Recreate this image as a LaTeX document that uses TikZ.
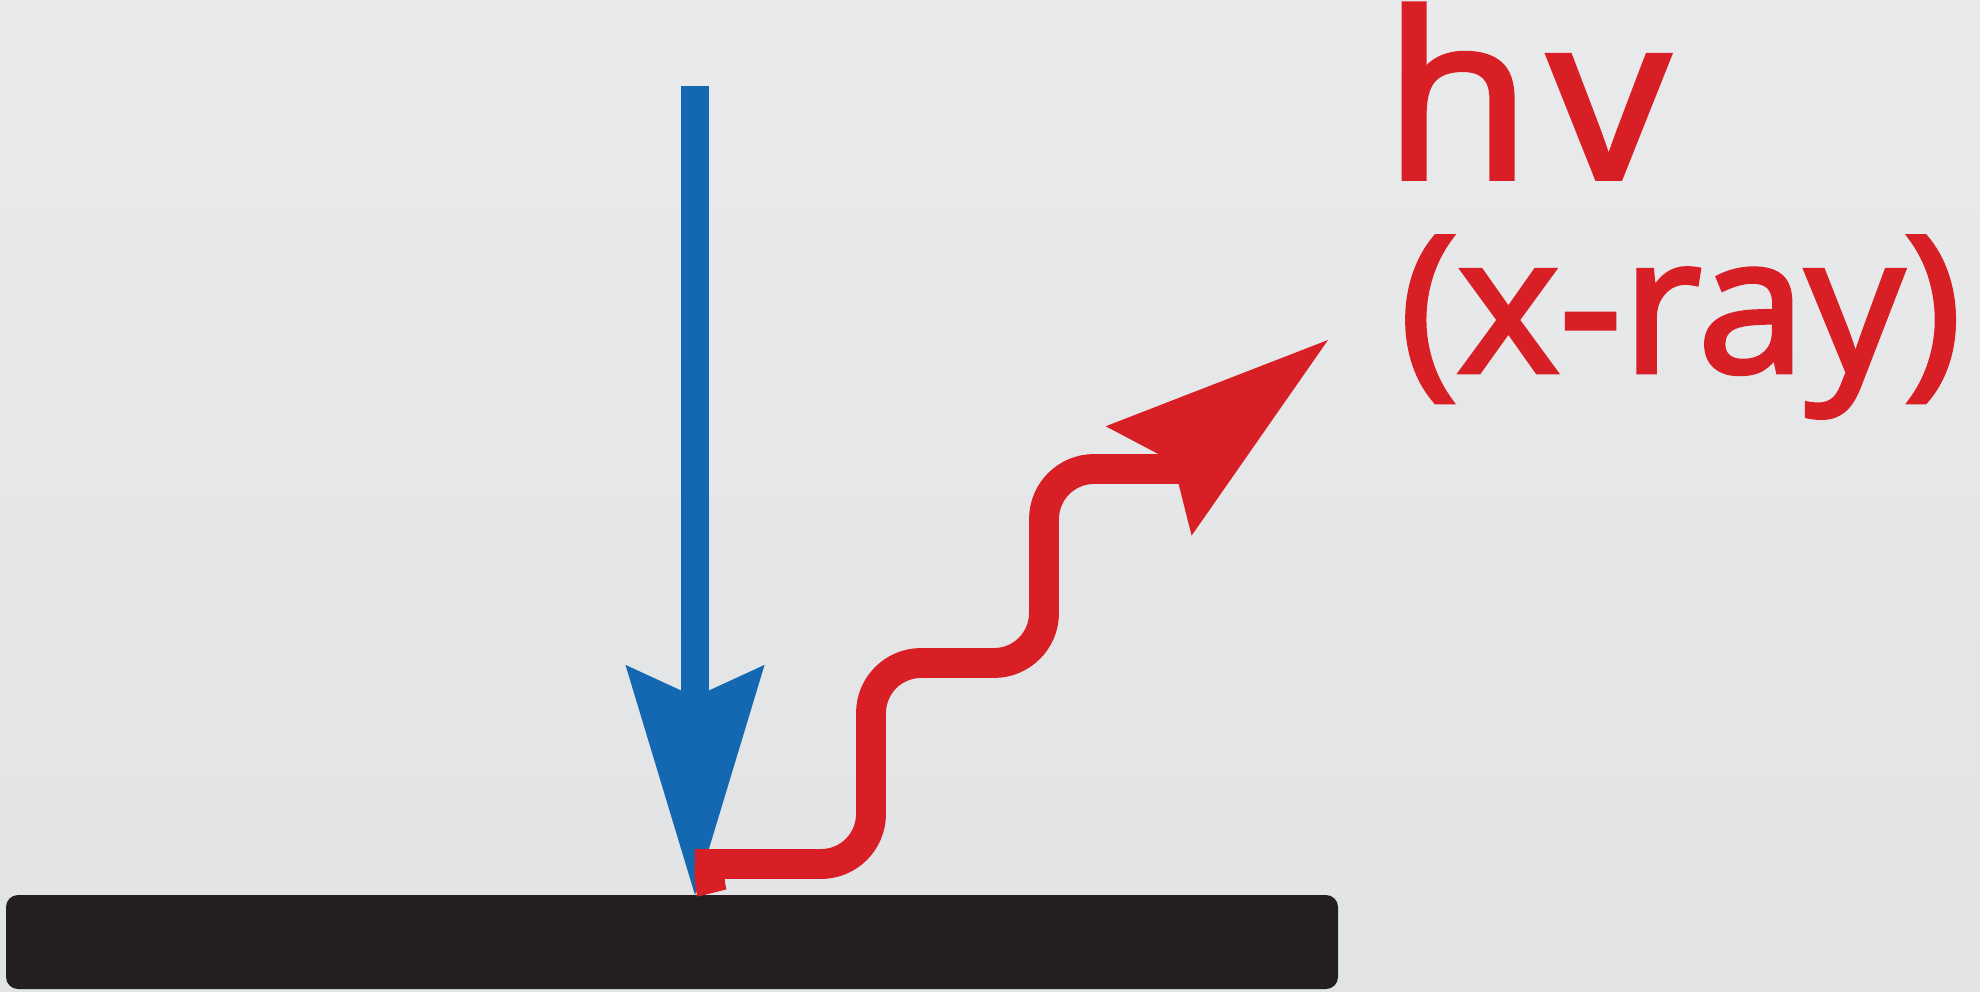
\documentclass[tikz,border=0pt]{standalone}
\usepackage{xcolor}
\usepackage{fontspec}
\setmainfont{Open Sans}[FakeBold=2.5]
\newfontfamily\widefont{Open Sans}[FakeBold=2.5,FakeStretch=1.05]
\newfontfamily\rayfont{Open Sans}[FakeBold=2.5,FakeStretch=1.025]
\usepackage{tikz}
\usetikzlibrary{arrows.meta,positioning,calc}
\definecolor{beam}{HTML}{1368B1}
\definecolor{ray}{HTML}{D91F26}
\definecolor{slab}{HTML}{231F20}
\definecolor{bgtop}{HTML}{E9EAEB}
\definecolor{bgbot}{HTML}{E2E3E4}

\begin{document}
\begin{tikzpicture}[x=0.01cm,y=-0.01cm]
  \shade[top color=bgtop,bottom color=bgbot] (0,0) rectangle (1980,991);
  \useasboundingbox (0,0) rectangle (1980,991);
  % sample
  \fill[slab,rounded corners=1.2mm] (6,895) rectangle (1338,989);
  % incoming electron beam
  \coordinate (gun) at (695,86);
  \coordinate (hit) at (695,895);
  \draw[beam,line width=7.7pt,-{Stealth[length=2.3cm,width=1.39cm,inset=0.32cm,line width=0pt]}] (gun) -- (hit);
  % emitted photon
  \coordinate (bounce) at (712,893);
  \coordinate (kink) at (1174,461);
  \coordinate (xtip) at (1328,340);
  \draw[ray,line width=8.5pt,rounded corners=5mm] (bounce) .. controls (706,872) and (716,864) .. (745,864) -- (871,864) -- (871,663) -- (1044,663) -- (1044,469) -- (1200,469);
  \draw[ray,line width=8.5pt,-{Stealth[length=2.28cm,width=1.39cm,inset=0.31cm,line width=0pt]}] (kink) -- (xtip);
  \node[ray,anchor=base west,inner sep=0pt,font=\widefont\fontsize{65}{65}\selectfont] (hnu) at (1383,178) {h\kern5pt v};
  \node[ray,anchor=base west,inner sep=0pt,font=\rayfont\fontsize{54}{54}\selectfont] (xray) at (1399,372) {(x-ray)};
\end{tikzpicture}
\end{document}
